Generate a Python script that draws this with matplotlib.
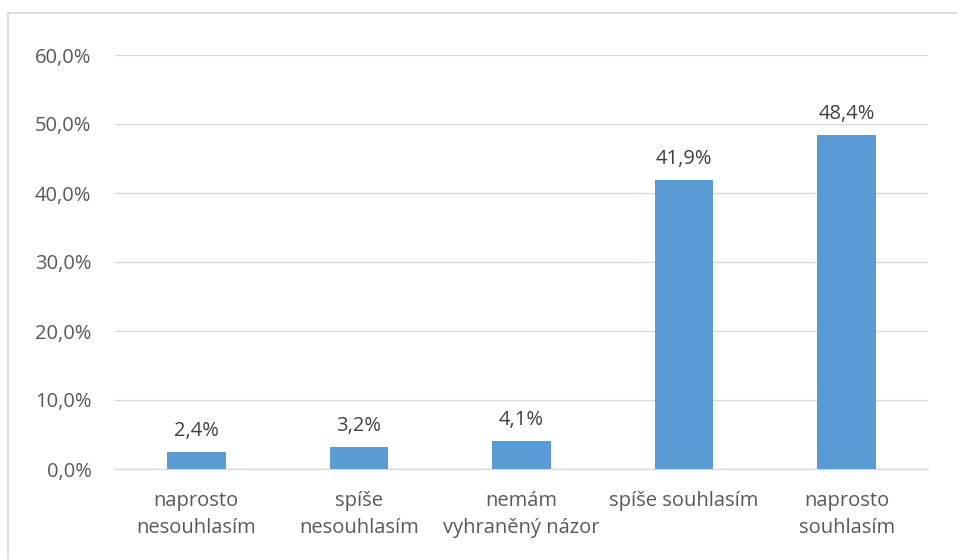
import matplotlib.pyplot as plt
from matplotlib.patches import Rectangle

categories = ['naprosto\nnesouhlasím', 'spíše\nnesouhlasím', 'nemám\nvyhraněný názor',
              'spíše souhlasím', 'naprosto\nsouhlasím']
values = [2.4, 3.2, 4.1, 41.9, 48.4]
yticks = [0, 10, 20, 30, 40, 50, 60]

plt.rcParams['font.family'] = ['Open Sans', 'DejaVu Sans']
text_color = '#595959'
fs = 14.5

fig = plt.figure(figsize=(9.57, 5.59), dpi=100)
# chart border (Excel style)
fig.patches.append(Rectangle((8 / 957, -0.1), 1.0, 1 - 13 / 559 + 0.1, transform=fig.transFigure,
                             fill=False, edgecolor='#D9D9D9', linewidth=1.2))

ax = fig.add_axes([115 / 957, 1 - 469 / 559, (928 - 115) / 957, (469 - 55) / 559])
x = range(len(values))
bars = ax.bar(x, values, width=0.36, color='#5B9BD5', zorder=3)

for xi, v in zip(x, values):
    ax.annotate(f'{v:.1f}%'.replace('.', ','), (xi, v), xytext=(0, 8), textcoords='offset points',
                ha='center', va='bottom', fontsize=fs, color='#404040')

ax.set_xlim(-0.5, len(values) - 0.5)
ax.set_ylim(0, 60)
ax.set_yticks(yticks)
ax.set_yticklabels([f'{t:.1f}%'.replace('.', ',') for t in yticks], fontsize=fs, color=text_color)
ax.set_xticks(list(x))
ax.set_xticklabels(categories, fontsize=fs, color=text_color, linespacing=1.45)
ax.tick_params(axis='both', length=0)
ax.tick_params(axis='y', pad=17)
ax.tick_params(axis='x', pad=16)
ax.grid(axis='y', color='#D9D9D9', linewidth=1, zorder=0)
for s in ['top', 'right', 'left']:
    ax.spines[s].set_visible(False)
ax.spines['bottom'].set_color('#D9D9D9')
ax.spines['bottom'].set_linewidth(1)

fig.savefig('out.png', dpi=100)
